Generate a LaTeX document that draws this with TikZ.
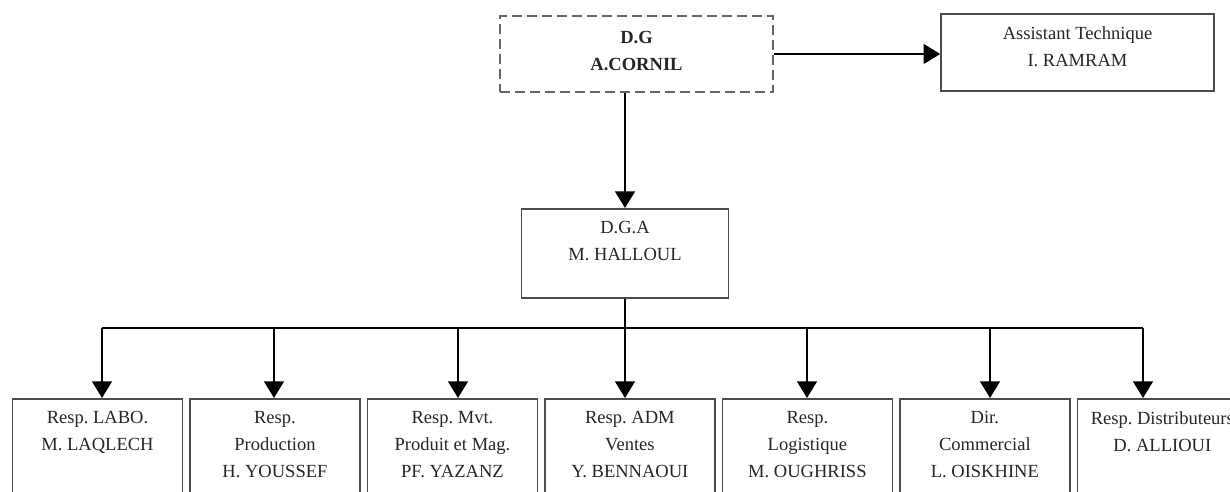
\documentclass[tikz,border=0pt]{standalone}
\usepackage{fontspec}
\setmainfont{Liberation Serif}
\usetikzlibrary{arrows.meta, positioning}
\frenchspacing

\tikzset{
  poste/.style={draw=black!70, line width=1.2pt, anchor=north},
  unite/.style={poste, minimum width=127.5pt, minimum height=82.5pt},
  texte/.style={anchor=north, align=center, inner sep=0pt, yshift=-10pt,
    text=black!85, font=\fontsize{13.9}{20}\selectfont},
  texteGras/.style={texte, yshift=-2pt, font=\fontsize{13.9}{20}\selectfont\bfseries},
  fleche/.style={line width=1.1pt, -{Triangle[length=12.5pt, width=15pt]}},
  trait/.style={line width=1.1pt}
}

\begin{document}
\begin{tikzpicture}[x=0.75pt, y=0.75pt]
    \useasboundingbox (0,0) rectangle (1230,492);

    % Direction generale
    \node[poste, draw=black!60, line width=1.5pt, dash pattern=on 7.5pt off 3.75pt,
          minimum width=204.75pt, minimum height=57pt,
          label={[texteGras]north:D.G\\A.CORNIL}] (dg) at (636.5,477) {};
    \node[poste, minimum width=204.75pt, minimum height=57.75pt,
          label={[texte]north:Assistant Technique\\I. RAMRAM}] (assistant) at (1077.5,479) {};
    \node[poste, minimum width=155.25pt, minimum height=66.75pt,
          label={[texte]north:D.G.A\\M. HALLOUL}] (dga) at (625,284) {};

    % Responsables
    \node[unite, label={[texte]north:Resp. LABO.\\M. LAQLECH}] (labo) at (97.5,94) {};
    \node[unite, right=4.4pt of labo, label={[texte]north:Resp.\\Production\\H. YOUSSEF}] (prod) {};
    \node[unite, right=4.4pt of prod, label={[texte]north:Resp. Mvt.\\Produit et Mag.\\PF. YAZANZ}] (mvt) {};
    \node[unite, right=4.4pt of mvt, label={[texte]north:Resp. ADM\\Ventes\\Y. BENNAOUI}] (adm) {};
    \node[unite, right=4.4pt of adm, label={[texte]north:Resp.\\Logistique\\M. OUGHRISS}] (logi) {};
    \node[unite, right=4.4pt of logi, label={[texte]north:Dir.\\Commercial\\L. OISKHINE}] (comm) {};
    \node[unite, right=4.4pt of comm, label={[texte]north:Resp. Distributeurs\\D. ALLIOUI}] (distrib) {};

    % Liaisons
    \draw[fleche] (dg.east) -- (dg.east -| assistant.west);
    \draw[fleche] (dg.south -| dga.north) -- (dga.north);
    \draw[fleche] (dga.south) -- (dga.south |- adm.north);

    % Barre de repartition
    \coordinate (b1) at (102,164);
    \coordinate (b2) at (274,164);
    \coordinate (b3) at (458,164);
    \coordinate (b5) at (807,164);
    \coordinate (b6) at (990,164);
    \coordinate (b7) at (1143,164);
    \draw[trait] (b1) -- (b7);
    \draw[fleche] (b1) -- (b1 |- labo.north);
    \draw[fleche] (b2) -- (b2 |- prod.north);
    \draw[fleche] (b3) -- (b3 |- mvt.north);
    \draw[fleche] (b5) -- (b5 |- logi.north);
    \draw[fleche] (b6) -- (b6 |- comm.north);
    \draw[fleche] (b7) -- (b7 |- distrib.north);
\end{tikzpicture}
\end{document}
